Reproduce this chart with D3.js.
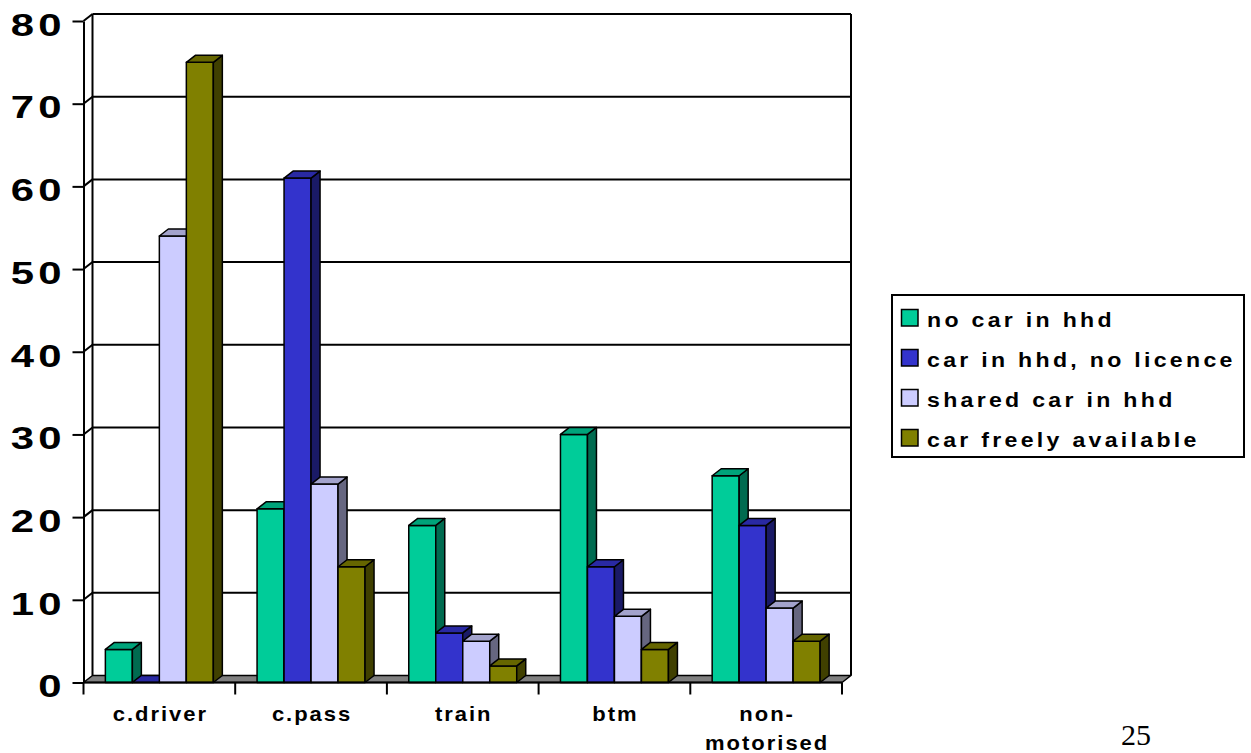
<!DOCTYPE html>
<html>
<head>
<meta charset="utf-8">
<script src="https://cdn.jsdelivr.net/npm/d3@7"></script>
<style>
  html, body { margin: 0; padding: 0; background: #ffffff; }
  svg { display: block; }
  text { font-family: "Liberation Sans", Arial, sans-serif; font-weight: bold; fill: #000; }
</style>
</head>
<body>
<script>
// ---- data ----
const categories = ["c.driver", "c.pass", "train", "btm", "non-motorised"];
const seriesNames = ["no car in hhd", "car in hhd, no licence", "shared car in hhd", "car freely available"];
const noCarInHhd = [4, 21, 19, 30, 25];
const carNoLicence = [0, 61, 6, 14, 19];
const sharedCar = [54, 24, 5, 8, 9];
const carFreelyAvailable = [75, 14, 2, 4, 5];
const yTicks = [0, 10, 20, 30, 40, 50, 60, 70, 80];
const pageNumber = "25";

const seriesValues = [noCarInHhd, carNoLicence, sharedCar, carFreelyAvailable];

// ---- styles ----
const frontColors = ["#00CC99", "#3333CC", "#CCCCFF", "#808000"];
const topColors   = ["#00A37A", "#2929A3", "#A3A3CC", "#666600"];
const sideColors  = ["#006B50", "#1A1A66", "#666680", "#404000"];

const W = 1251, H = 753;
const front = { left: 83.5, right: 842, top: 21, bottom: 682.5 };
const depth = { dx: 9, dy: -7 };

const svg = d3.select("body").append("svg").attr("width", W).attr("height", H);

const x0 = d3.scaleBand().domain(categories).range([front.left, front.right]);
const x1 = d3.scaleBand().domain(seriesNames).range([0, x0.bandwidth()])
  .paddingInner(0).paddingOuter(0.81);
const y = d3.scaleLinear().domain([0, 80]).range([front.bottom, front.top]);

// stretched bold text helper
function label(g, txt, x, yy, opts) {
  return g.append("text")
    .attr("transform", `translate(${x},${yy}) scale(${opts.sx},1)`)
    .attr("text-anchor", opts.anchor || "start")
    .style("font-size", opts.size + "px")
    .style("letter-spacing", (opts.ls || 0) + "px")
    .text(txt);
}

// ---- back wall gridlines ----
const walls = svg.append("g").attr("stroke", "#000").attr("stroke-width", 2).attr("fill", "none");
yTicks.filter(t => t > 0).forEach(t => {
  walls.append("line")
    .attr("x1", front.left + depth.dx).attr("x2", front.right + depth.dx)
    .attr("y1", y(t) + depth.dy).attr("y2", y(t) + depth.dy);
  // side wall segment
  walls.append("line")
    .attr("x1", front.left).attr("y1", y(t))
    .attr("x2", front.left + depth.dx).attr("y2", y(t) + depth.dy);
});
// back wall vertical edges
walls.append("line")
  .attr("x1", front.left + depth.dx).attr("x2", front.left + depth.dx)
  .attr("y1", y(80) + depth.dy).attr("y2", y(0) + depth.dy);
walls.append("line")
  .attr("x1", front.right + depth.dx).attr("x2", front.right + depth.dx)
  .attr("y1", y(80) + depth.dy).attr("y2", y(0) + depth.dy);

// ---- floor ----
svg.append("polygon")
  .attr("points", [
    [front.left, y(0)], [front.right, y(0)],
    [front.right + depth.dx, y(0) + depth.dy], [front.left + depth.dx, y(0) + depth.dy]
  ].map(p => p.join(",")).join(" "))
  .attr("fill", "#808080").attr("stroke", "#000").attr("stroke-width", 1.5)
  .attr("stroke-linejoin", "round");

// ---- y axis ----
const yAxis = d3.axisLeft(y).tickValues(yTicks).tickSize(11).tickSizeOuter(0).tickFormat(d3.format("d"));
const yg = svg.append("g").attr("transform", `translate(${front.left},0)`).call(yAxis);
yg.select(".domain").attr("stroke", "#000").attr("stroke-width", 2);
yg.selectAll(".tick line").attr("stroke", "#000").attr("stroke-width", 2);
yg.selectAll(".tick text")
  .attr("x", null).attr("dy", "0.46em").attr("fill", "#000")
  .attr("transform", "translate(-18,0) scale(1.35,1)")
  .attr("font-family", null).attr("font-size", null)
  .style("font-size", "31px").style("letter-spacing", "3px")
  .style("font-family", "'Liberation Sans', Arial, sans-serif").style("font-weight", "bold");

// ---- bars ----
const barsG = svg.append("g").attr("stroke", "#000").attr("stroke-width", 1.5).attr("stroke-linejoin", "round");
const w = x1.bandwidth();
categories.forEach((c, i) => {
  seriesNames.forEach((s, j) => {
    const v = seriesValues[j][i];
    const bx = x0(c) + x1(s);
    const yt = y(v), yb = y(0);
    const g = barsG.append("g");
    g.append("rect").attr("x", bx).attr("y", yt).attr("width", w).attr("height", yb - yt)
      .attr("fill", frontColors[j]);
    g.append("polygon")
      .attr("points", [[bx + w, yb], [bx + w + depth.dx, yb + depth.dy], [bx + w + depth.dx, yt + depth.dy], [bx + w, yt]]
        .map(p => p.join(",")).join(" "))
      .attr("fill", sideColors[j]);
    g.append("polygon")
      .attr("points", [[bx, yt], [bx + depth.dx, yt + depth.dy], [bx + w + depth.dx, yt + depth.dy], [bx + w, yt]]
        .map(p => p.join(",")).join(" "))
      .attr("fill", topColors[j]);
  });
});

// ---- x axis ----
const xg = svg.append("g").attr("stroke", "#000").attr("stroke-width", 2);
xg.append("line").attr("x1", front.left).attr("x2", front.right).attr("y1", y(0)).attr("y2", y(0));
categories.map(c => x0(c)).concat([front.right]).forEach(bx => {
  xg.append("line").attr("x1", bx).attr("x2", bx).attr("y1", y(0)).attr("y2", y(0) + 12);
});
const xl = svg.append("g");
categories.forEach(c => {
  const cx = x0(c) + x0.bandwidth() / 2;
  const lines = c.includes("-") ? [c.slice(0, c.indexOf("-") + 1), c.slice(c.indexOf("-") + 1)] : [c];
  lines.forEach((ln, k) => {
    label(xl, ln, cx + 1, 721 + k * 29, { sx: 1.1, size: 20, ls: 1.8, anchor: "middle" });
  });
});

// ---- legend ----
const lg = svg.append("g");
lg.append("rect").attr("x", 892).attr("y", 295).attr("width", 352).attr("height", 162)
  .attr("fill", "#fff").attr("stroke", "#000").attr("stroke-width", 2);
seriesNames.forEach((s, j) => {
  lg.append("rect").attr("x", 901.5).attr("y", 309.5 + j * 40).attr("width", 16.5).attr("height", 16.5)
    .attr("fill", frontColors[j]).attr("stroke", "#000").attr("stroke-width", 1.5);
  label(lg, s, 927, 326.5 + j * 40, { sx: 1.1, size: 21, ls: 3 });
});

// ---- page number ----
svg.append("text").attr("x", 1121).attr("y", 745)
  .style("font-family", "'Liberation Serif', 'Times New Roman', serif")
  .style("font-weight", "normal").style("font-size", "30px")
  .text(pageNumber);
</script>
</body>
</html>
